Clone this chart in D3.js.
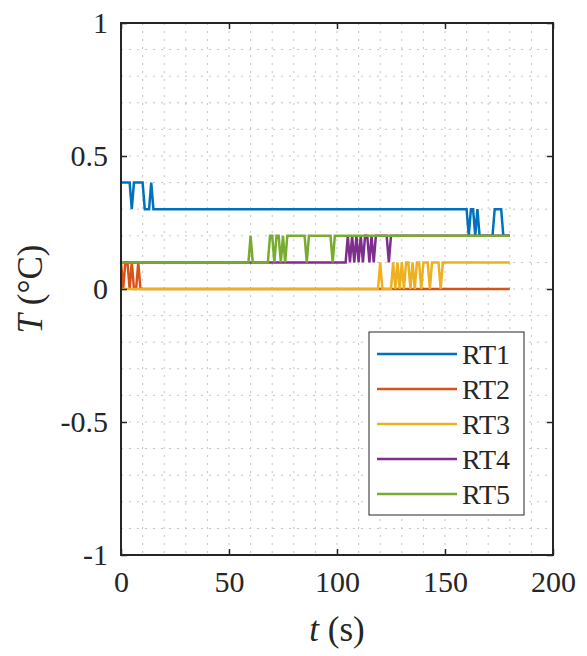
<!DOCTYPE html>
<html>
<head>
<meta charset="utf-8">
<script src="https://cdn.jsdelivr.net/npm/d3@7"></script>
<style>
  body { margin: 0; background: #fff; }
  svg text { font-family: "Liberation Serif", "DejaVu Serif", serif !important; fill: #262626; }
</style>
</head>
<body>
<div id="chart"></div>
<script>
// series vertices [t (s), T (degC)]
var rt1 = [[0,0.4],[4,0.4],[5,0.3],[6,0.4],[10,0.4],[11,0.3],[13,0.3],[14,0.4],[15,0.3],
  [160,0.3],[161,0.2],[162,0.3],[163,0.3],[164,0.2],[165,0.3],[166,0.2],[172,0.2],[173,0.3],
  [176,0.3],[177,0.2],[180,0.2]];
var rt2 = [[0,0.1],[1,0],[2,0.1],[3,0.1],[4,0],[5,0.1],[6,0],[7,0],[8,0.1],[9,0],[180,0]];
var rt3 = [[0,0],[119,0],[120,0.1],[121,0],[125,0],[126,0.1],[127,0],[128,0.1],[129,0],
  [130,0.1],[131,0],[132,0.1],[133,0.1],[134,0],[135,0.1],[136,0],[137,0.1],[138,0.1],
  [139,0],[140,0.1],[141,0.1],[142,0.1],[143,0],[144,0.1],[145,0.1],[146,0.1],[147,0.1],
  [148,0],[149,0.1],[180,0.1]];
var rt4 = [[0,0.1],[104,0.1],[105,0.2],[106,0.1],[107,0.2],[108,0.1],[109,0.2],[110,0.1],
  [111,0.2],[112,0.1],[113,0.2],[114,0.2],[115,0.1],[116,0.2],[117,0.1],[118,0.2],
  [123,0.2],[124,0.1],[125,0.2],[180,0.2]];
var rt5 = [[0,0.1],[59,0.1],[60,0.2],[61,0.1],[68,0.1],[69,0.2],[70,0.2],[71,0.1],[72,0.2],
  [73,0.2],[74,0.1],[75,0.2],[76,0.1],[77,0.2],[85,0.2],[86,0.1],[87,0.2],[97,0.2],
  [98,0.1],[99,0.2],[180,0.2]];

var names = ["RT1", "RT2", "RT3", "RT4", "RT5"];
var seriesValues = [rt1, rt2, rt3, rt4, rt5];
var colors = ["#0072BD", "#D95319", "#EDB120", "#7E2F8E", "#77AC30"];
var xTicks = [0, 50, 100, 150, 200];
var yTicks = [-1, -0.5, 0, 0.5, 1];
var yTickLabels = ["-1", "-0.5", "0", "0.5", "1"];

var font = "'Liberation Serif', 'DejaVu Serif', serif";

var margin = { top: 23, right: 34, bottom: 101, left: 121 },
  width = 587 - margin.left - margin.right,
  height = 656 - margin.top - margin.bottom;

var svg = d3
  .select("#chart")
  .append("svg")
  .attr("width", width + margin.left + margin.right)
  .attr("height", height + margin.top + margin.bottom)
  .attr("font-family", font)
  .append("g")
  .attr("transform", "translate(" + margin.left + "," + margin.top + ")");

var x = d3.scaleLinear().domain([0, 200]).range([0, width]);
var y = d3.scaleLinear().domain([-1, 1]).range([height, 0]);

// dotted grid (every 10 s, every 0.1 degC)
var grid = svg.append("g").attr("class", "grid");
grid
  .selectAll(".gx")
  .data(d3.range(10, 200, 10))
  .enter()
  .append("line")
  .attr("x1", (d) => x(d))
  .attr("x2", (d) => x(d))
  .attr("y1", 0)
  .attr("y2", height);
grid
  .selectAll(".gy")
  .data(d3.range(-9, 10).map((d) => d / 10))
  .enter()
  .append("line")
  .attr("x1", 0)
  .attr("x2", width)
  .attr("y1", (d) => y(d))
  .attr("y2", (d) => y(d));
grid
  .selectAll("line")
  .style("stroke", "#c4c4c4")
  .style("stroke-width", 1)
  .style("stroke-dasharray", "2,6");

// lines
var line = d3
  .line()
  .x((d) => x(d[0]))
  .y((d) => y(d[1]));

svg
  .selectAll(".line")
  .data(seriesValues)
  .enter()
  .append("path")
  .attr("class", "line")
  .attr("fill", "none")
  .attr("stroke", (d, i) => colors[i])
  .attr("stroke-width", 2.5)
  .attr("d", (d) => line(d));

// axes with inward ticks, box on
var tickLen = 6;
svg
  .append("g")
  .attr("transform", "translate(0," + height + ")")
  .call(d3.axisBottom(x).tickValues(xTicks).tickSizeInner(-tickLen).tickSizeOuter(0).tickPadding(16).tickFormat(d3.format("d")))
  .call((g) => g.select(".domain").remove());
svg
  .append("g")
  .call(d3.axisTop(x).tickValues(xTicks).tickSizeInner(-tickLen).tickSizeOuter(0).tickFormat(""))
  .call((g) => g.select(".domain").remove());
svg
  .append("g")
  .call(d3.axisLeft(y).tickValues(yTicks).tickSizeInner(-tickLen).tickSizeOuter(0).tickPadding(13)
    .tickFormat((d, i) => yTickLabels[i]))
  .call((g) => g.select(".domain").remove());
svg
  .append("g")
  .attr("transform", "translate(" + width + ",0)")
  .call(d3.axisRight(y).tickValues(yTicks).tickSizeInner(-tickLen).tickSizeOuter(0).tickFormat(""))
  .call((g) => g.select(".domain").remove());

svg.selectAll(".tick line").attr("stroke", "#262626").attr("stroke-width", 1.5);
svg.selectAll("g").attr("font-family", font);
svg
  .selectAll(".tick text")
  .attr("fill", "#262626")
  .attr("font-size", 30);

svg
  .append("rect")
  .attr("width", width)
  .attr("height", height)
  .attr("fill", "none")
  .attr("stroke", "#262626")
  .attr("stroke-width", 2);

// axis labels
var xl = svg
  .append("text")
  .attr("x", width / 2)
  .attr("y", height + 86)
  .attr("text-anchor", "middle")
  .attr("font-size", 35);
xl.append("tspan").attr("font-style", "italic").text("t");
xl.append("tspan").text(" (s)");

var yl = svg
  .append("text")
  .attr("transform", "translate(" + (42 - margin.left) + "," + height / 2 + ") rotate(-90)")
  .attr("text-anchor", "middle")
  .attr("font-size", 35);
yl.append("tspan").attr("font-style", "italic").text("T");
yl.append("tspan").text(" (\u00B0C)");

// legend
var lg = svg.append("g").attr("transform", "translate(" + (width - 184) + "," + (height - 223) + ")");
lg.append("rect")
  .attr("width", 155)
  .attr("height", 183)
  .attr("fill", "#fff")
  .attr("stroke", "#262626")
  .attr("stroke-width", 1);
var rows = lg
  .selectAll(".row")
  .data(names)
  .enter()
  .append("g")
  .attr("transform", (d, i) => "translate(0," + (22 + i * 35) + ")");
rows
  .append("line")
  .attr("x1", 8)
  .attr("x2", 88)
  .attr("stroke", (d, i) => colors[i])
  .attr("stroke-width", 2.5);
rows
  .append("text")
  .attr("x", 93)
  .attr("dy", "0.37em")
  .attr("font-size", 28)
  .text((d) => d);
</script>
</body>
</html>
